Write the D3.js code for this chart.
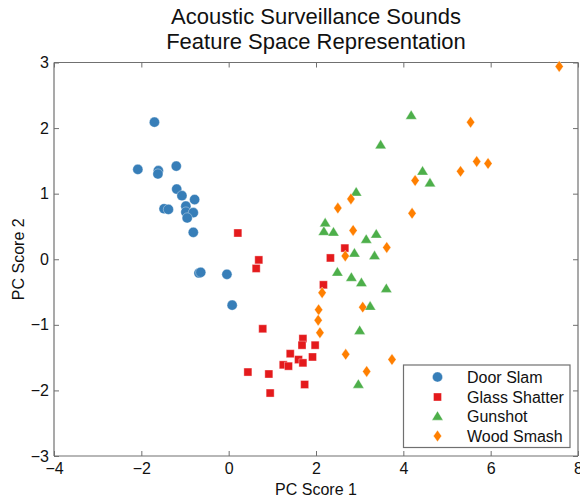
<!DOCTYPE html>
<html><head><meta charset="utf-8">
<script src="https://cdn.jsdelivr.net/npm/d3@7"></script>
<style>body{margin:0;background:#fff}svg{display:block;font-family:"Liberation Sans",Arial,sans-serif}</style>
</head><body>
<svg id="c" width="580" height="499"></svg>
<script>
const titleLines = ["Acoustic Surveillance Sounds", "Feature Space Representation"];
const xLabel = "PC Score 1";
const yLabel = "PC Score 2";
const xTicks = [-4, -2, 0, 2, 4, 6, 8];
const yTicks = [-3, -2, -1, 0, 1, 2, 3];
const categories = ["Door Slam", "Glass Shatter", "Gunshot", "Wood Smash"];
const colors = ["#377eb8", "#e41a1c", "#4daf4a", "#ff7f00"];

const doorSlam = [[-1.70,2.09],[-2.08,1.37],[-1.61,1.35],[-1.62,1.30],[-1.20,1.42],[-1.19,1.07],[-1.07,0.97],[-0.78,0.91],[-0.98,0.81],[-1.48,0.77],[-1.38,0.76],[-0.98,0.72],[-0.81,0.71],[-0.95,0.63],[-0.81,0.41],[-0.68,-0.21],[-0.64,-0.20],[-0.04,-0.23],[0.08,-0.70]];
const glassShatter = [[0.21,0.40],[0.69,-0.01],[0.63,-0.14],[2.66,0.17],[2.33,0.02],[2.17,-0.39],[0.78,-1.06],[1.70,-1.21],[1.68,-1.31],[1.98,-1.31],[1.41,-1.44],[1.92,-1.49],[1.60,-1.53],[1.70,-1.58],[1.25,-1.61],[1.37,-1.63],[0.44,-1.72],[0.92,-1.75],[1.74,-1.91],[0.95,-2.04]];
const gunshot = [[4.18,2.19],[3.48,1.74],[4.44,1.34],[4.61,1.16],[2.92,1.02],[2.21,0.55],[2.18,0.42],[2.40,0.41],[3.15,0.30],[3.38,0.38],[2.88,0.09],[3.34,0.05],[2.49,-0.20],[2.81,-0.28],[3.04,-0.36],[3.61,-0.45],[3.24,-0.72],[3.00,-1.09],[2.97,-1.91]];
const woodSmash = [[5.54,2.09],[5.68,1.49],[5.94,1.46],[5.31,1.34],[4.27,1.20],[2.80,0.92],[2.50,0.78],[4.20,0.70],[2.85,0.44],[3.62,0.18],[2.67,0.05],[2.14,-0.51],[3.07,-0.73],[2.06,-0.77],[2.05,-0.93],[2.09,-1.12],[2.68,-1.45],[3.74,-1.53],[3.16,-1.71],[7.57,2.94]];
const seriesData = [doorSlam, glassShatter, gunshot, woodSmash];

const svg = d3.select("#c");
const L = 54, R = 578, T = 62.5, B = 456;
const x = d3.scaleLinear().domain([-4, 8]).range([L, R]);
const y = d3.scaleLinear().domain([-3, 3]).range([B, T]);
const axisColor = "#707070";
const fontFam = "Liberation Sans, Arial, sans-serif";

const sq = (s) => `M${-s},${-s}h${2*s}v${2*s}h${-2*s}Z`;
const tri = (s) => `M0,${-s*1.0}L${s},${s*0.65}L${-s},${s*0.65}Z`;
const dia = (s) => `M0,${-s*1.4}L${s},0L0,${s*1.4}L${-s},0Z`;
function drawMarker(g, i, cx, cy) {
  const c = colors[i];
  let el;
  if (i === 0) el = g.append("circle").attr("cx", cx).attr("cy", cy).attr("r", 5.1);
  else if (i === 1) el = g.append("path").attr("d", sq(4)).attr("transform", `translate(${cx},${cy})`);
  else if (i === 2) el = g.append("path").attr("d", tri(5.6)).attr("transform", `translate(${cx},${cy})`);
  else el = g.append("path").attr("d", dia(4.1)).attr("transform", `translate(${cx},${cy})`);
  el.attr("fill", c).attr("stroke", "#ffffff").attr("stroke-opacity", 0.6).attr("stroke-width", 0.6);
}

const tl = 5;
const gx = svg.append("g").attr("transform", `translate(0,${B})`)
  .call(d3.axisBottom(x).tickValues(xTicks).tickSize(-tl).tickPadding(7).tickFormat(d3.format("d")));
const gy = svg.append("g").attr("transform", `translate(${L},0)`)
  .call(d3.axisLeft(y).tickValues(yTicks).tickSize(-tl).tickPadding(5).tickFormat(d3.format("d")));
const gx2 = svg.append("g").attr("transform", `translate(0,${T})`)
  .call(d3.axisTop(x).tickValues(xTicks).tickSize(-tl).tickFormat(""));
const gy2 = svg.append("g").attr("transform", `translate(${R},0)`)
  .call(d3.axisRight(y).tickValues(yTicks).tickSize(-tl).tickFormat(""));
[gx, gy, gx2, gy2].forEach(g => {
  g.selectAll("path.domain").attr("stroke", axisColor).attr("stroke-width", 1.2);
  g.selectAll(".tick line").attr("stroke", axisColor);
  g.selectAll(".tick text").attr("fill", "#111").attr("font-size", 16).attr("font-family", fontFam);
});
gx.selectAll("path.domain").attr("d", `M${L},0H${R}`);
gy.selectAll("path.domain").attr("d", `M0,${B}V${T}`);
gx2.selectAll("path.domain").attr("d", `M${L},0H${R}`);
gy2.selectAll("path.domain").attr("d", `M0,${B}V${T}`);
gx2.selectAll(".tick text").remove();
gy2.selectAll(".tick text").remove();

const pg = svg.append("g");
seriesData.forEach((pts, i) => {
  pts.forEach(p => drawMarker(pg, i, x(p[0]), y(p[1])));
});

const lg = svg.append("g");
lg.append("rect").attr("x", 403.5).attr("y", 365).attr("width", 166.5).attr("height", 82.5)
  .attr("fill", "#fff").attr("stroke", axisColor).attr("stroke-width", 1.2);
const rowY = [377, 397, 416.5, 436];
categories.forEach((name, i) => {
  drawMarker(lg, i, 437.5, rowY[i]);
  lg.append("text").attr("x", 467).attr("y", rowY[i]).attr("dy", "0.36em")
    .attr("font-size", 16).attr("fill", "#111").text(name);
});

svg.append("g").selectAll("text").data(titleLines).join("text")
  .attr("x", 316).attr("y", (d, i) => 24 + i * 24.5)
  .attr("text-anchor", "middle").attr("font-size", 22).attr("fill", "#111").text(d => d);

svg.append("text").attr("x", 316).attr("y", 495).attr("text-anchor", "middle")
  .attr("font-size", 16).attr("fill", "#111").text(xLabel);
svg.append("text").attr("transform", `translate(24,${(T + B) / 2}) rotate(-90)`)
  .attr("text-anchor", "middle").attr("font-size", 16).attr("fill", "#111").text(yLabel);
</script>
</body></html>
